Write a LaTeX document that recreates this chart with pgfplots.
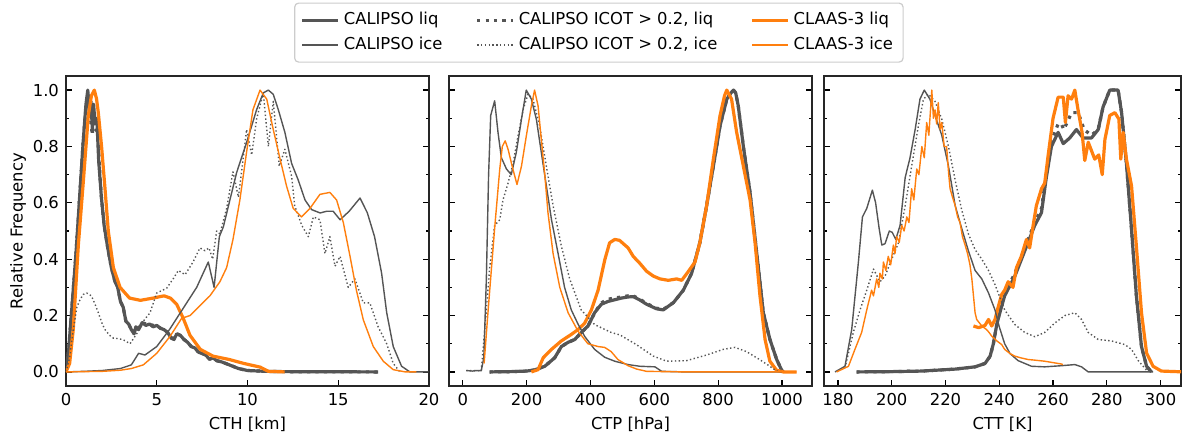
\documentclass[border=0pt]{standalone}
\usepackage{fontspec}
\setmainfont{DejaVu Sans}
\usepackage{pgfplots}
\pgfplotsset{compat=1.18}
\definecolor{cg}{RGB}{85,85,85}
\definecolor{co}{RGB}{255,127,14}
\pgfplotsset{
 myax/.style={
  scale only axis, height=155pt,
  ymin=-0.05, ymax=1.05,
  ytick={0,0.2,0.4,0.6,0.8,1.0},
  minor y tick num=1,
  tick align=inside,
  xtick pos=left,
  ytick pos=both,
  major tick length=2.9pt, minor tick length=1.6pt,
  every tick/.style={black, line width=0.6pt},
  axis line style={line width=0.65pt, black!85},
  /pgf/number format/assume math mode=true,
  /pgf/number format/set thousands separator={},
  yticklabel style={/pgf/number format/fixed, /pgf/number format/fixed zerofill, /pgf/number format/precision=1},
  font=\fontsize{8.2}{10}\selectfont,
  xlabel style={at={(axis description cs:0.5,-0.1226)},anchor=center},
  legend image code/.code={\draw[##1] (0pt,0pt) -- (18pt,0pt);},
 },
 liq/.style={line width=1.6pt, no marks, line join=round},
 ice/.style={line width=0.7pt, no marks, line join=round},
 dl/.style={dash pattern=on 1.6pt off 2.6pt},
 di/.style={dash pattern=on 0.7pt off 1.2pt},
}
\begin{document}
\begin{tikzpicture}
\path[use as bounding box] (0,0) rectangle (592pt,217.5pt);
%================ Panel 1: CTH
\begin{axis}[myax, at={(33pt,24.5pt)}, anchor=south west, width=181.5pt,
  xmin=0, xmax=20, xtick={0,5,10,15,20},
  xlabel={CTH [km]}, ylabel={Relative Frequency},
  ylabel style={at={(axis description cs:-0.132,0.5)},anchor=center},
  legend columns=3, legend cell align=left,
  legend style={at={(1.468,1.140)}, anchor=center, draw=black!20, rounded corners=2pt, line width=0.6pt,
    font=\fontsize{8.2}{10}\selectfont, inner xsep=3pt, inner ysep=2.5pt, row sep=0.5pt,
    nodes={text height=6.2pt, text depth=1.8pt, inner sep=2pt},
    /tikz/every even column/.append style={column sep=14.5pt}}]
\addplot[liq, cg] coordinates {(0,0) (0.15,0.08) (0.35,0.25) (0.55,0.42) (0.75,0.62) (0.95,0.82) (1.1,0.95) (1.2,1.0) (1.3,0.92) (1.38,0.96) (1.45,0.86) (1.52,0.95) (1.6,0.88) (1.7,0.9) (1.8,0.75) (1.95,0.62) (2.1,0.52) (2.3,0.44) (2.5,0.37) (2.7,0.32) (2.85,0.3) (3.0,0.25) (3.15,0.23) (3.3,0.18) (3.45,0.17) (3.6,0.15) (3.75,0.135) (3.85,0.16) (4.0,0.15) (4.2,0.175) (4.4,0.165) (4.6,0.17) (4.8,0.16) (5.0,0.165) (5.2,0.155) (5.4,0.15) (5.6,0.14) (5.8,0.12) (5.95,0.115) (6.1,0.135) (6.3,0.13) (6.5,0.115) (6.7,0.105) (6.9,0.09) (7.1,0.085) (7.3,0.07) (7.5,0.065) (7.7,0.06) (7.9,0.045) (8.1,0.05) (8.3,0.04) (8.6,0.035) (9.0,0.025) (9.5,0.012) (10.0,0.005) (11,0.002) (12,0.001) (17.2,0.0)};
\addlegendentry{CALIPSO liq}
\addplot[liq, cg, dl] coordinates {(0,0) (0.15,0.08) (0.35,0.25) (0.55,0.42) (0.75,0.62) (0.95,0.82) (1.1,0.94) (1.25,0.98) (1.35,0.9) (1.45,0.84) (1.55,0.93) (1.65,0.86) (1.75,0.85) (1.85,0.72) (1.95,0.62) (2.1,0.52) (2.3,0.44) (2.5,0.37) (2.7,0.32) (2.85,0.3) (3.0,0.25) (3.15,0.23) (3.3,0.18) (3.45,0.17) (3.6,0.15) (3.75,0.14) (3.85,0.16) (4.0,0.155) (4.2,0.175) (4.4,0.17) (4.6,0.17) (4.8,0.165) (5.0,0.165) (5.2,0.155) (5.4,0.15) (5.6,0.14) (5.8,0.12) (5.95,0.12) (6.1,0.135) (6.3,0.13) (6.5,0.115) (6.7,0.105) (6.9,0.09) (7.1,0.085) (7.3,0.07) (7.5,0.065) (7.7,0.06) (7.9,0.045) (8.1,0.05) (8.3,0.04) (8.6,0.035) (9.0,0.025) (9.5,0.012) (10.0,0.005) (11,0.002) (12,0.001) (17.2,0.0)};
\addlegendentry{CALIPSO ICOT > 0.2, liq}
\addplot[liq, co] coordinates {(0,0) (0.2,0.03) (0.4,0.15) (0.68,0.45) (0.96,0.68) (1.23,0.91) (1.4,0.98) (1.56,1.0) (1.68,0.97) (1.78,0.92) (1.96,0.80) (2.15,0.65) (2.33,0.50) (2.61,0.37) (2.98,0.30) (3.5,0.262) (4.1,0.254) (4.8,0.262) (5.4,0.27) (5.75,0.262) (6.1,0.24) (6.46,0.19) (6.83,0.13) (7.4,0.08) (8.1,0.056) (9.0,0.044) (9.8,0.03) (10.7,0.017) (11.15,0.002) (12.05,0.0)};
\addlegendentry{CLAAS-3 liq}
\addplot[ice, cg] coordinates {(0,0) (1,0.002) (2,0.005) (3,0.012) (3.6,0.025) (4.0,0.066) (4.35,0.06) (5.0,0.09) (5.7,0.15) (6.4,0.22) (7.2,0.30) (7.84,0.39) (8.16,0.30) (8.45,0.48) (8.67,0.515) (9.03,0.61) (9.4,0.707) (9.95,0.814) (10.5,0.93) (10.87,0.99) (11.15,1.0) (11.42,0.985) (11.7,0.93) (12.06,0.85) (12.43,0.74) (12.8,0.68) (13.17,0.61) (13.53,0.576) (14.0,0.564) (14.36,0.57) (14.72,0.57) (15.1,0.54) (15.6,0.57) (16.2,0.617) (16.6,0.565) (17.0,0.48) (17.39,0.35) (17.67,0.21) (18.03,0.09) (18.49,0.02) (18.95,0) (19.96,0)};
\addlegendentry{CALIPSO ice}
\addplot[ice, cg, di] coordinates {(0,0) (0.2,0.05) (0.4,0.15) (0.6,0.23) (0.77,0.256) (0.95,0.275) (1.14,0.28) (1.4,0.27) (1.6,0.24) (1.78,0.21) (2.0,0.17) (2.15,0.15) (2.4,0.13) (2.61,0.12) (2.9,0.118) (3.16,0.114) (3.53,0.10) (3.9,0.136) (4.26,0.18) (4.63,0.21) (5.0,0.28) (5.55,0.297) (5.9,0.33) (6.19,0.36) (6.56,0.345) (7.0,0.39) (7.38,0.44) (7.66,0.43) (7.88,0.44) (8.08,0.40) (8.3,0.50) (8.48,0.49) (8.85,0.58) (9.2,0.71) (9.5,0.62) (9.75,0.75) (9.95,0.86) (10.23,0.77) (10.5,0.897) (10.87,0.99) (11.15,0.80) (11.42,0.96) (11.75,0.73) (12.06,0.79) (12.43,0.695) (12.6,0.59) (12.99,0.52) (13.35,0.48) (13.63,0.55) (13.99,0.54) (14.27,0.42) (14.54,0.48) (14.82,0.375) (15.1,0.41) (15.55,0.30) (15.92,0.33) (16.38,0.245) (16.74,0.245) (17.2,0.16) (17.67,0.10) (18.03,0.03) (18.4,0)};
\addlegendentry{CALIPSO ICOT > 0.2, ice}
\addplot[ice, co] coordinates {(0,0) (1,0.001) (2,0.002) (3,0.006) (3.6,0.012) (4.26,0.025) (5.0,0.066) (5.73,0.126) (6.37,0.19) (6.83,0.20) (7.38,0.235) (7.93,0.27) (8.48,0.32) (8.85,0.37) (9.2,0.47) (9.58,0.61) (9.95,0.78) (10.3,0.93) (10.69,1.0) (11.06,0.968) (11.42,0.86) (11.8,0.754) (12.15,0.66) (12.52,0.58) (12.98,0.55) (13.44,0.58) (13.99,0.63) (14.54,0.637) (14.91,0.61) (15.28,0.53) (15.65,0.41) (16.0,0.29) (16.38,0.185) (16.93,0.09) (17.48,0.038) (18.03,0.008) (18.7,0) (19.3,0)};
\addlegendentry{CLAAS-3 ice}
\end{axis}
%================ Panel 2: CTP
\begin{axis}[myax, at={(224.5pt,24.5pt)}, anchor=south west, width=181.5pt,
  xmin=-43, xmax=1094, xtick={0,200,400,600,800,1000}, yticklabels={},
  xlabel={CTP [hPa]}]
\addplot[liq, cg] coordinates {(84.5,0) (150,0.001) (200,0.003) (225,0.007) (257,0.02) (288,0.05) (309,0.09) (330,0.105) (351,0.115) (371.6,0.14) (392.5,0.163) (413,0.21) (434,0.24) (455,0.25) (476,0.256) (497,0.262) (518,0.266) (534,0.267) (555,0.255) (576,0.24) (607,0.224) (628,0.22) (660,0.246) (691,0.29) (717,0.35) (743,0.46) (764,0.59) (785,0.73) (806,0.873) (827,0.968) (840,0.99) (848,1.0) (855,0.99) (863,0.944) (879,0.80) (900,0.636) (921,0.42) (941.5,0.21) (962,0.116) (983,0.045) (999,0.006) (1004,0)};
\addplot[liq, cg, dl] coordinates {(84.5,0) (150,0.001) (200,0.003) (225,0.007) (257,0.02) (288,0.05) (309,0.09) (330,0.105) (351,0.115) (371.6,0.14) (392.5,0.163) (413,0.21) (434,0.245) (455,0.258) (476,0.262) (497,0.266) (518,0.27) (534,0.27) (555,0.258) (576,0.243) (607,0.226) (628,0.222) (660,0.246) (691,0.29) (717,0.35) (743,0.46) (764,0.59) (785,0.73) (806,0.873) (827,0.968) (840,0.99) (848,1.0) (855,0.99) (863,0.944) (879,0.80) (900,0.636) (921,0.42) (941.5,0.21) (962,0.116) (983,0.045) (999,0.006) (1004,0)};
\addplot[liq, co] coordinates {(215,0) (236,0.008) (252,0.05) (278,0.08) (309,0.11) (340,0.133) (361,0.15) (382,0.173) (403,0.22) (424,0.29) (445,0.398) (460,0.458) (476,0.47) (491,0.467) (518,0.44) (534,0.41) (555,0.385) (576,0.357) (597,0.34) (618,0.33) (644,0.325) (670,0.33) (686,0.325) (707,0.357) (727.5,0.39) (743,0.46) (764,0.59) (785,0.755) (806,0.91) (820,0.98) (827,1.0) (842,0.968) (858,0.85) (879,0.73) (900,0.61) (915.5,0.46) (931,0.27) (947,0.115) (962,0.038) (983,0.006) (1004,0) (1046,0)};
\addplot[ice, cg] coordinates {(11,0.005) (30,0.003) (45,0.005) (58,0.004) (66,0.05) (74,0.33) (81,0.7) (87.6,0.91) (100,0.962) (110.5,0.85) (121,0.76) (137,0.72) (152,0.70) (168,0.78) (184,0.897) (199,1.0) (215,0.968) (230.6,0.897) (246,0.78) (262,0.66) (278,0.54) (298.7,0.42) (319,0.30) (340,0.22) (361,0.17) (382,0.126) (413,0.08) (444.6,0.052) (476,0.038) (518,0.026) (555,0.02) (602,0.018) (623,0.002) (700,0.0) (1000,0.0)};
\addplot[ice, cg, di] coordinates {(11,0.005) (58,0.004) (69,0.15) (84.5,0.37) (100,0.52) (116,0.54) (126,0.61) (142,0.67) (157.5,0.74) (173,0.836) (189,0.93) (204.5,0.986) (220,0.968) (241,0.873) (262,0.73) (283,0.59) (309,0.446) (335,0.33) (371,0.22) (413,0.168) (465,0.14) (493,0.131) (545,0.096) (597,0.056) (639,0.038) (701,0.040) (764,0.06) (816,0.08) (853,0.087) (889,0.072) (931,0.043) (962,0.02) (983,0.003) (1004,0)};
\addplot[ice, co] coordinates {(67,0.03) (79,0.21) (100,0.51) (116,0.72) (124,0.80) (133,0.82) (142,0.79) (157,0.72) (170,0.665) (184,0.73) (199,0.836) (215,0.944) (225,1.0) (236,0.944) (246,0.826) (257,0.70) (267,0.565) (283,0.42) (304,0.30) (330,0.21) (361,0.145) (392,0.10) (424,0.09) (444.6,0.087) (465,0.072) (486,0.044) (518,0.022) (545,0.01) (576,0.002) (700,0) (1045,0)};
\end{axis}
%================ Panel 3: CTT
\begin{axis}[myax, at={(412pt,24.5pt)}, anchor=south west, width=178.5pt,
  xmin=174.8, xmax=307.6, xtick={180,200,220,240,260,280,300}, yticklabels={},
  xlabel={CTT [K]}]
\addplot[liq, cg] coordinates {(186.9,0) (200,0.001) (211.2,0.003) (223.6,0.01) (231,0.018) (234.7,0.03) (236.6,0.056) (237.8,0.10) (239.1,0.17) (240.5,0.22) (242,0.27) (245.8,0.34) (249.5,0.43) (253.2,0.52) (255.7,0.565) (257.5,0.69) (259.4,0.80) (261.9,0.85) (263.8,0.81) (266.2,0.83) (268.7,0.86) (271.2,0.83) (274.3,0.83) (276.8,0.86) (278.6,0.94) (281.1,1.0) (284.2,1.0) (285.5,0.92) (287.3,0.74) (289.2,0.505) (291,0.27) (292.9,0.09) (294.8,0.02) (296.6,0)};
\addplot[liq, cg, dl] coordinates {(186.9,0) (200,0.001) (211.2,0.003) (223.6,0.01) (231,0.018) (234.7,0.03) (236.6,0.056) (237.8,0.10) (239.1,0.17) (240.5,0.23) (242,0.28) (245.8,0.35) (249.5,0.44) (253.2,0.53) (255.7,0.58) (257.5,0.70) (259.4,0.82) (261.9,0.88) (263.1,0.88) (264,0.86) (266.9,0.92) (269.3,0.92) (270.5,0.89) (271.5,0.86) (274.3,0.84) (276.8,0.86) (278.6,0.94) (281.1,1.0) (284.2,1.0) (285.5,0.92) (287.3,0.74) (289.2,0.505) (291,0.27) (292.9,0.09) (294.8,0.02) (296.6,0)};
\addplot[liq, co] coordinates {(230.4,0.163) (232.3,0.157) (234.7,0.165) (236,0.186) (237.2,0.163) (238.4,0.186) (239.7,0.234) (240.9,0.275) (242,0.29) (243.3,0.32) (245.1,0.30) (246.4,0.37) (248.2,0.41) (250.1,0.47) (251.3,0.44) (252.6,0.52) (253.8,0.59) (255.7,0.65) (256.9,0.67) (258.2,0.77) (260,0.90) (261.9,0.975) (263.8,0.975) (264.6,0.885) (265.6,0.98) (266.9,0.968) (268.1,1.0) (269.3,0.93) (270.8,0.85) (271.8,0.75) (273.1,0.815) (274.3,0.785) (275.5,0.755) (277,0.77) (278.3,0.70) (279.3,0.825) (281.1,0.91) (283,0.92) (284.5,0.897) (285.2,0.755) (286.1,0.85) (287.3,0.755) (289.2,0.66) (291,0.446) (292.9,0.21) (294.8,0.067) (297.2,0.02) (300.3,0.003) (308.7,0)};
\addplot[ice, cg] coordinates {(178.9,0) (182.6,0.02) (185.1,0.15) (187.6,0.39) (189.1,0.55) (190.7,0.58) (192.8,0.645) (194,0.60) (195.3,0.51) (196.3,0.45) (197.5,0.455) (199.1,0.50) (200.2,0.495) (201.5,0.47) (203.1,0.52) (205,0.69) (206.8,0.76) (208.7,0.86) (210.5,0.968) (212.1,1.0) (214.2,0.968) (216.1,0.91) (218.6,0.84) (221.1,0.73) (223.6,0.59) (226,0.51) (228.5,0.43) (231,0.36) (233.5,0.33) (236,0.28) (238.4,0.22) (240,0.16) (242,0.10) (244,0.065) (247,0.04) (252,0.02) (256.9,0.018) (263.1,0.022) (268.1,0.026) (270.6,0.018) (273.1,0) (297.2,0)};
\addplot[ice, cg, di] coordinates {(182.6,0.014) (185.7,0.14) (188.2,0.22) (190.7,0.29) (193.2,0.365) (195.6,0.32) (197.5,0.34) (200,0.40) (202.5,0.458) (205,0.59) (207.4,0.73) (209.9,0.873) (211.8,0.968) (213.6,0.986) (216.1,0.96) (218.6,0.897) (221.1,0.80) (223.6,0.68) (226,0.576) (228.5,0.49) (231,0.434) (233.5,0.40) (236,0.36) (238.4,0.31) (242,0.22) (245.8,0.168) (249.5,0.14) (253.2,0.125) (256.9,0.14) (260.6,0.173) (264.4,0.20) (268.1,0.21) (270.6,0.186) (273.1,0.14) (276.8,0.115) (281.7,0.11) (286.7,0.097) (289.2,0.08) (291.7,0.04) (294.8,0.006) (296.6,0)};
\addplot[ice, co] coordinates {(179.5,0) (183.9,0.02) (186.3,0.08) (188.8,0.14) (190.7,0.22) (192.5,0.29) (193.2,0.27) (194.4,0.33) (195.2,0.30) (195.6,0.35) (196.5,0.33) (196.9,0.39) (197.8,0.36) (198.7,0.41) (199.6,0.38) (200.6,0.45) (201.2,0.42) (201.8,0.48) (202.8,0.46) (203.7,0.52) (204.6,0.50) (205.6,0.55) (206.4,0.53) (207.4,0.65) (208.2,0.61) (209.3,0.72) (210.1,0.70) (211.2,0.80) (212.1,0.76) (213,0.885) (213.8,0.84) (214.9,1.0) (215.5,0.90) (216.1,0.93) (216.7,0.88) (217.3,0.956) (218.0,0.86) (218.6,0.885) (219.5,0.80) (220.4,0.80) (221.2,0.70) (221.7,0.65) (222.6,0.62) (223.6,0.59) (224.5,0.55) (225.4,0.53) (226.3,0.48) (227.3,0.45) (228.2,0.42) (229.1,0.38) (229.8,0.33) (230.4,0.27) (231.0,0.21) (231.6,0.186) (233.5,0.163) (235.3,0.15) (236.2,0.14) (237.2,0.127) (238.0,0.12) (239.1,0.11) (240.9,0.097) (242,0.08) (244,0.065) (245.8,0.056) (248,0.05) (250.7,0.044) (253,0.042) (256.9,0.038) (260,0.033) (263.1,0.028) (263.7,0.026)};
\end{axis}
\end{tikzpicture}
\end{document}
